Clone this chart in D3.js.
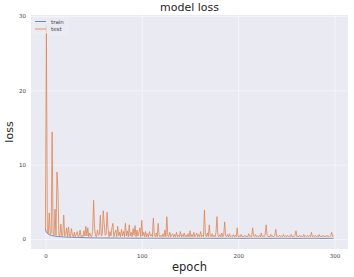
<!DOCTYPE html>
<html>
<head>
<meta charset="utf-8">
<script src="https://cdn.jsdelivr.net/npm/d3@7"></script>
<style>
  body { margin: 0; background: #fff; }
  text { font-family: "DejaVu Sans", sans-serif; }
</style>
</head>
<body>
<script>
// loss per epoch
const trainLoss = [
  1.30, 0.90, 0.75, 0.65, 0.58, 0.52, 0.48, 0.45, 0.42, 0.40,
  0.38, 0.36, 0.34, 0.33, 0.32, 0.31, 0.30, 0.29, 0.28, 0.27,
  0.26, 0.26, 0.25, 0.24, 0.24, 0.23, 0.23, 0.22, 0.22, 0.21,
  0.21, 0.20, 0.20, 0.20, 0.19, 0.19, 0.19, 0.18, 0.18, 0.18,
  0.17, 0.17, 0.17, 0.16, 0.16, 0.16, 0.16, 0.15, 0.15, 0.15,
  0.15, 0.15, 0.14, 0.14, 0.14, 0.14, 0.14, 0.14, 0.13, 0.13,
  0.13, 0.14, 0.13, 0.13, 0.12, 0.13, 0.13, 0.12, 0.13, 0.12,
  0.12, 0.12, 0.13, 0.12, 0.12, 0.12, 0.11, 0.12, 0.12, 0.11,
  0.12, 0.11, 0.11, 0.12, 0.11, 0.11, 0.11, 0.11, 0.12, 0.11,
  0.11, 0.11, 0.10, 0.11, 0.11, 0.11, 0.10, 0.11, 0.10, 0.11,
  0.10, 0.10, 0.11, 0.10, 0.10, 0.10, 0.11, 0.10, 0.10, 0.10,
  0.10, 0.10, 0.10, 0.10, 0.09, 0.10, 0.10, 0.10, 0.09, 0.10,
  0.10, 0.09, 0.10, 0.10, 0.09, 0.10, 0.09, 0.10, 0.09, 0.09,
  0.10, 0.09, 0.09, 0.10, 0.09, 0.09, 0.09, 0.10, 0.09, 0.09,
  0.09, 0.09, 0.10, 0.09, 0.09, 0.09, 0.09, 0.09, 0.10, 0.09,
  0.09, 0.09, 0.09, 0.09, 0.09, 0.10, 0.09, 0.09, 0.09, 0.09,
  0.09, 0.09, 0.09, 0.08, 0.09, 0.09, 0.09, 0.09, 0.08, 0.09,
  0.09, 0.09, 0.08, 0.09, 0.09, 0.09, 0.08, 0.09, 0.09, 0.08,
  0.09, 0.09, 0.08, 0.09, 0.09, 0.08, 0.09, 0.09, 0.08, 0.09,
  0.08, 0.09, 0.09, 0.08, 0.09, 0.08, 0.09, 0.08, 0.09, 0.08,
  0.09, 0.08, 0.09, 0.08, 0.08, 0.09, 0.08, 0.09, 0.08, 0.08,
  0.09, 0.08, 0.08, 0.09, 0.08, 0.08, 0.08, 0.09, 0.08, 0.08,
  0.08, 0.09, 0.08, 0.08, 0.08, 0.08, 0.09, 0.08, 0.08, 0.08,
  0.08, 0.08, 0.09, 0.08, 0.08, 0.08, 0.08, 0.08, 0.09, 0.08,
  0.08, 0.08, 0.08, 0.08, 0.08, 0.09, 0.08, 0.08, 0.08, 0.08,
  0.08, 0.08, 0.08, 0.08, 0.08, 0.08, 0.09, 0.08, 0.08, 0.08,
  0.08, 0.08, 0.08, 0.08, 0.08, 0.08, 0.08, 0.08, 0.09, 0.08,
  0.08, 0.08, 0.08, 0.08, 0.08, 0.08, 0.08, 0.08, 0.08, 0.08,
  0.08, 0.08, 0.08, 0.08, 0.09, 0.08, 0.08, 0.08, 0.08, 0.08,
  0.08, 0.08, 0.08, 0.08, 0.08, 0.08, 0.08, 0.08, 0.08, 0.08
];
const testLoss = [
  1.2, 28.7, 0.9, 0.7, 3.5, 0.6, 0.8, 14.4, 0.6, 0.5,
  4.0, 0.5, 9.0, 6.5, 0.5, 0.4, 2.0, 0.4, 0.5, 3.2,
  0.4, 0.6, 1.5, 0.3, 1.6, 0.4, 0.3, 1.4, 0.5, 0.3,
  0.9, 0.3, 0.6, 1.0, 0.3, 0.4, 1.2, 0.3, 0.5, 0.3,
  1.1, 0.4, 1.7, 0.4, 1.5, 0.3, 0.8, 0.4, 0.3, 1.0,
  5.2, 1.5, 0.4, 0.3, 1.2, 0.5, 0.6, 3.2, 0.4, 0.6,
  3.8, 2.0, 0.5, 0.6, 3.6, 1.4, 0.3, 1.0, 0.4, 1.5,
  2.1, 0.3, 0.8, 1.2, 0.3, 1.7, 0.4, 0.9, 0.3, 1.3,
  0.4, 1.0, 0.3, 2.1, 0.4, 1.1, 0.3, 1.9, 0.4, 0.9,
  0.3, 1.4, 0.5, 1.8, 0.3, 1.2, 0.4, 0.8, 1.5, 0.3,
  2.5, 0.4, 0.9, 0.3, 1.0, 0.3, 0.7, 0.3, 1.0, 0.4,
  0.6, 0.3, 2.8, 0.5, 0.3, 0.8, 0.3, 2.1, 0.4, 0.3,
  0.5, 0.3, 0.7, 0.3, 1.2, 0.3, 3.0, 0.4, 0.3, 0.9,
  0.3, 0.5, 0.7, 0.3, 0.6, 0.3, 0.9, 0.3, 0.5, 0.3,
  1.0, 0.3, 0.6, 0.3, 0.8, 0.3, 0.5, 0.3, 0.7, 0.3,
  1.1, 0.3, 0.6, 0.3, 0.9, 0.3, 0.5, 0.8, 0.3, 0.6,
  0.3, 1.0, 0.3, 0.5, 0.3, 3.9, 0.6, 0.3, 0.8, 0.3,
  1.9, 0.4, 0.3, 0.7, 0.3, 0.5, 0.3, 0.9, 3.0, 0.4,
  0.3, 0.6, 0.3, 0.8, 0.3, 0.5, 2.3, 0.4, 0.3, 0.6,
  0.3, 0.7, 0.3, 0.4, 0.3, 0.6, 0.3, 0.5, 0.3, 1.5,
  0.3, 0.4, 0.3, 0.6, 0.3, 0.4, 0.3, 0.5, 0.3, 0.4,
  0.3, 0.7, 0.3, 0.4, 0.3, 1.5, 0.4, 0.3, 0.6, 0.3,
  0.4, 0.3, 0.5, 0.3, 0.8, 0.3, 0.4, 0.3, 0.6, 1.9,
  0.5, 0.3, 0.4, 0.3, 0.6, 0.3, 0.4, 0.3, 0.5, 1.3,
  0.3, 0.4, 0.3, 0.5, 0.3, 0.4, 0.3, 0.6, 0.3, 0.4,
  0.3, 0.5, 0.3, 0.4, 0.3, 0.6, 0.3, 0.4, 0.3, 0.5,
  1.1, 0.3, 0.4, 0.3, 0.5, 0.3, 0.4, 0.3, 0.6, 0.3,
  0.4, 0.3, 0.5, 0.3, 0.4, 0.3, 0.9, 0.3, 0.4, 0.3,
  0.5, 0.3, 0.4, 0.3, 0.6, 0.3, 0.4, 0.3, 0.5, 0.3,
  0.4, 0.3, 0.5, 0.3, 0.4, 0.3, 0.4, 0.9, 0.3, 0.4
];
const xTicks = [0, 100, 200, 300];
const yTicks = [0, 10, 20, 30];
const seriesNames = ["train", "test"];
const colorTrain = "#4c72b0";
const colorTest = "#dd8452";

const width = 354;
const height = 277;
const plotLeft = 31, plotRight = 348, plotTop = 15, plotBottom = 249;

const svg = d3.select("body").append("svg")
    .attr("width", width)
    .attr("height", height);

// matplotlib style 5% margins
const n = testLoss.length;
const xPad = (n - 1) * 0.05;
const yMin = d3.min(trainLoss.concat(testLoss));
const yMax = d3.max(trainLoss.concat(testLoss));
const yPad = (yMax - yMin) * 0.05;

const xScale = d3.scaleLinear()
    .domain([-xPad, n - 1 + xPad])
    .range([plotLeft, plotRight]);
const yScale = d3.scaleLinear()
    .domain([yMin - yPad, yMax + yPad])
    .range([plotBottom, plotTop]);

// plot background
svg.append("rect")
    .attr("x", plotLeft).attr("y", plotTop)
    .attr("width", plotRight - plotLeft).attr("height", plotBottom - plotTop)
    .attr("fill", "#eaeaf2");

// grid
const xAxis = d3.axisBottom(xScale).tickValues(xTicks).tickSize(-(plotBottom - plotTop)).tickPadding(5);
const yAxis = d3.axisLeft(yScale).tickValues(yTicks).tickSize(-(plotRight - plotLeft)).tickPadding(5);

const gx = svg.append("g")
    .attr("transform", `translate(0, ${plotBottom})`)
    .call(xAxis);
const gy = svg.append("g")
    .attr("transform", `translate(${plotLeft}, 0)`)
    .call(yAxis);

[gx, gy].forEach(g => {
    g.select(".domain").remove();
    g.selectAll(".tick line").attr("stroke", "#fff").attr("stroke-width", 0.6).attr("stroke-opacity", 0.8);
    g.selectAll(".tick text")
        .attr("fill", "#444")
        .style("font-size", "5.5px")
        .style("font-family", "DejaVu Sans, sans-serif");
});

// lines
const line = d3.line()
    .x((d, i) => xScale(i))
    .y(d => yScale(d));

svg.append("path")
    .datum(trainLoss)
    .attr("fill", "none")
    .attr("stroke", colorTrain)
    .attr("stroke-width", 0.8)
    .attr("d", line);

svg.append("path")
    .datum(testLoss)
    .attr("fill", "none")
    .attr("stroke", colorTest)
    .attr("stroke-width", 0.8)
    .attr("d", line);

// legend
const legend = svg.append("g").attr("transform", `translate(${plotLeft + 2}, ${plotTop + 2})`);
legend.append("rect")
    .attr("width", 34).attr("height", 16)
    .attr("rx", 1.5)
    .attr("fill", "#eaeaf2").attr("fill-opacity", 0.8)
    .attr("stroke", "#f4f4f8").attr("stroke-width", 0.6);
seriesNames.forEach((name, i) => {
    const y = 4.5 + i * 7.5;
    legend.append("line")
        .attr("x1", 2).attr("x2", 13)
        .attr("y1", y).attr("y2", y)
        .attr("stroke", i === 0 ? colorTrain : colorTest)
        .attr("stroke-width", 0.8);
    legend.append("text")
        .attr("x", 18).attr("y", y + 2)
        .attr("fill", "#444")
        .style("font-size", "5.5px")
        .text(name);
});

// titles
svg.append("text")
    .attr("x", (plotLeft + plotRight) / 2).attr("y", 11)
    .attr("text-anchor", "middle")
    .attr("fill", "#262626")
    .style("font-size", "11px")
    .text("model loss");

svg.append("text")
    .attr("x", (plotLeft + plotRight) / 2).attr("y", 271)
    .attr("text-anchor", "middle")
    .attr("fill", "#262626")
    .style("font-size", "11.5px")
    .text("epoch");

svg.append("text")
    .attr("transform", `translate(13, ${(plotTop + plotBottom) / 2}) rotate(-90)`)
    .attr("text-anchor", "middle")
    .attr("fill", "#262626")
    .style("font-size", "11px")
    .text("loss");
</script>
</body>
</html>
